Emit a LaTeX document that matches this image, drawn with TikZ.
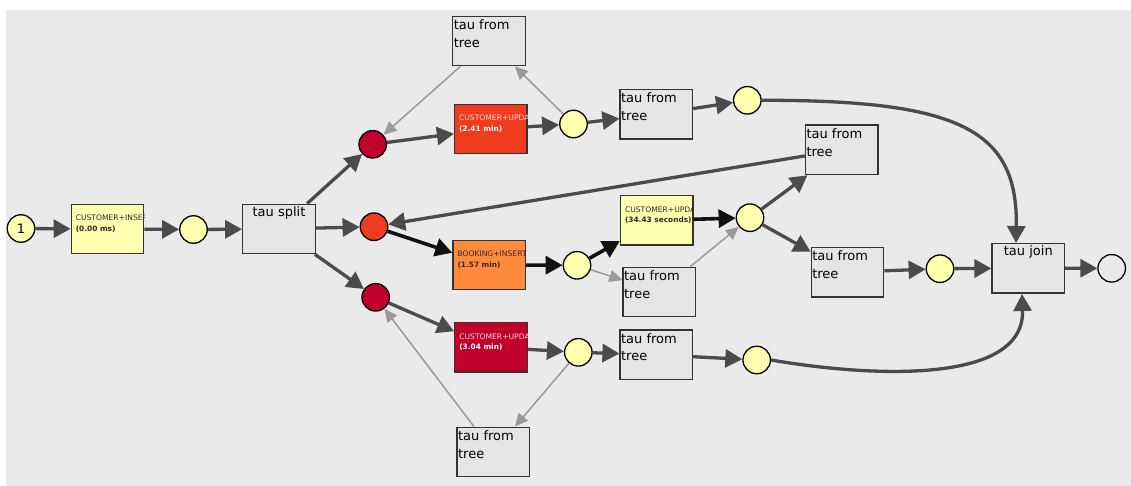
\documentclass[tikz,border=0pt]{standalone}
\usepackage{fontspec}
\setmainfont{DejaVu Sans}
\usetikzlibrary{arrows.meta}
\definecolor{bg}{HTML}{E9EAE9}
\definecolor{plc}{HTML}{FFFFB0}
\definecolor{crim}{HTML}{C1002B}
\definecolor{ored}{HTML}{F03C1E}
\definecolor{oran}{HTML}{FF8C3C}
\definecolor{taufill}{HTML}{E5E5E5}
\definecolor{edgec}{HTML}{4B4B4B}
\definecolor{litec}{HTML}{9A9A9A}
\definecolor{blkc}{HTML}{111111}
\definecolor{darktxt}{HTML}{3B2525}
\definecolor{pinktxt}{HTML}{FFD6D6}
\tikzset{
  place/.style={circle, draw=black, line width=1.3pt, minimum size=27.5pt, inner sep=0pt, fill=plc},
  tbox/.style={rectangle, draw=black!80, line width=1.3pt, minimum width=72.5pt, minimum height=49.5pt, inner sep=0pt},
  taubox/.style={tbox, fill=taufill},
  taulbl/.style={anchor=north west, align=left, inner xsep=1pt, inner ysep=0pt, font=\fontsize{13}{17.5}\selectfont},
  ctrlbl/.style={anchor=base, inner sep=0pt, font=\fontsize{13}{15}\selectfont},
  ttl/.style={anchor=base west, inner sep=0pt, font=\fontsize{7.6}{8}\selectfont},
  ttlb/.style={anchor=base west, inner sep=0pt, font=\fontsize{7.4}{8}\selectfont\bfseries},
  arc/.style={draw=edgec, line width=3.3pt, -{Triangle[length=17pt,width=18pt]}},
  blarc/.style={draw=blkc, line width=3.6pt, -{Triangle[length=17pt,width=18pt]}},
  ltarc/.style={draw=litec, line width=1.5pt, -{Triangle[length=13pt,width=12pt]}},
}
\begin{document}
\begin{tikzpicture}[x=1pt,y=-1pt]
\useasboundingbox (0,0) rectangle (1131,486);
\fill[bg] (6,10) rectangle (1131,486);

% places
\node[place] (start) at (21,228.5) {\fontsize{13}{15}\selectfont 1};
\node[place] (p1) at (193.5,229.5) {};
\node[place, fill=crim] (ca) at (372.7,144.3) {};
\node[place, fill=ored] (cb) at (374,226.7) {};
\node[place, fill=crim] (cc) at (375.7,297.3) {};
\node[place] (p2) at (573.5,124) {};
\node[place] (p3) at (747.3,100.3) {};
\node[place] (p4) at (577,265.3) {};
\node[place] (p5) at (750,217.7) {};
\node[place] (p6) at (940,268.7) {};
\node[place, fill=bg] (pend) at (1111.7,268.3) {};
\node[place] (p7) at (578.3,352.3) {};
\node[place] (p8) at (756.7,360) {};

% transitions
\node[tbox, fill=plc] (tr1) at (107.5,229) {};
\node[tbox, fill=ored] (tr2) at (490.8,129) {};
\node[tbox, fill=oran] (tr3) at (489.2,265) {};
\node[tbox, fill=plc] (tr4) at (656.7,220.3) {};
\node[tbox, fill=crim] (tr5) at (491,347.2) {};

\begin{scope}
\clip (tr1.north west) rectangle (tr1.south east);
\node[ttl, text=darktxt] (tr1a) at ([shift={(5pt,-17.3pt)}]tr1.north west) {CUSTOMER+INSERT};
\node[ttlb, text=darktxt] (tr1b) at ([shift={(5pt,-28pt)}]tr1.north west) {(0.00 ms)};
\end{scope}
\begin{scope}
\clip (tr2.north west) rectangle (tr2.south east);
\node[ttl, text=pinktxt] (tr2a) at ([shift={(5pt,-17.3pt)}]tr2.north west) {CUSTOMER+UPDATE};
\node[ttlb, text=white] (tr2b) at ([shift={(5pt,-28pt)}]tr2.north west) {(2.41 min)};
\end{scope}
\begin{scope}
\clip (tr3.north west) rectangle (tr3.south east);
\node[ttl, text=darktxt] (tr3a) at ([shift={(5pt,-17.3pt)}]tr3.north west) {BOOKING+INSERT+};
\node[ttlb, text=darktxt] (tr3b) at ([shift={(5pt,-28pt)}]tr3.north west) {(1.57 min)};
\end{scope}
\begin{scope}
\clip (tr4.north west) rectangle (tr4.south east);
\node[ttl, text=darktxt] (tr4a) at ([shift={(5pt,-17.3pt)}]tr4.north west) {CUSTOMER+UPDATE};
\node[ttlb, text=darktxt] (tr4b) at ([shift={(5pt,-28pt)}]tr4.north west) {(34.43 seconds)};
\end{scope}
\begin{scope}
\clip (tr5.north west) rectangle (tr5.south east);
\node[ttl, text=pinktxt] (tr5a) at ([shift={(5pt,-17.3pt)}]tr5.north west) {CUSTOMER+UPDATE};
\node[ttlb, text=white] (tr5b) at ([shift={(5pt,-28pt)}]tr5.north west) {(3.04 min)};
\end{scope}

% tau boxes
\node[taubox] (split) at (279,229) {};
\node[ctrlbl] (splitl) at ([yshift=-12.5pt]split.north) {tau split};
\node[taubox] (join) at (1028.3,268.2) {};
\node[ctrlbl] (joinl) at ([yshift=-13pt]join.north) {tau join};

\node[taubox] (tt1) at (489,41) {};
\node[taubox] (tt2) at (656.3,114.2) {};
\node[taubox] (tt3) at (841.7,149.9) {};
\node[taubox] (tt4) at (659.3,292) {};
\node[taubox] (tt5) at (847.5,272.2) {};
\node[taubox] (tt6) at (656.3,354.8) {};
\node[taubox] (tt7) at (493.3,452) {};
\foreach \t in {tt1,tt2,tt3,tt4,tt5,tt6,tt7}{
  \node[taulbl] (\t l) at ([shift={(0.5pt,-4pt)}]\t.north west) {tau from\\tree};
}

\coordinate (jtop) at (1016,243);
\coordinate (jbot) at (1022,294);

% connectors
\draw[arc] (start) -- (tr1);
\draw[arc] (tr1) -- (p1);
\draw[arc] (p1) -- (split);
\draw[arc] (split) -- (ca);
\draw[arc] (split) -- (cb);
\draw[arc] (split) -- (cc);
\draw[arc] (ca) -- (tr2);
\draw[arc] (tr2) -- (p2);
\draw[ltarc] (p2) -- (tt1);
\draw[ltarc] (tt1) -- (ca);
\draw[arc] (p2) -- (tt2);
\draw[arc] (tt2) -- (p3);
\draw[arc] (p3.east) .. controls (960,100) and (1018,130) .. (jtop);
\draw[arc] (tt3) -- (cb);
\draw[blarc] (cb) -- (tr3);
\draw[blarc] (tr3) -- (p4);
\draw[blarc] (p4) -- (tr4);
\draw[ltarc] (p4) -- (tt4);
\draw[blarc] (tr4) -- (p5);
\draw[ltarc] (tt4) -- (p5);
\draw[arc] (p5) -- (tt3);
\draw[arc] (p5) -- (tt5);
\draw[arc] (tt5) -- (p6);
\draw[arc] (p6) -- (join);
\draw[arc] (join) -- (pend);
\draw[arc] (cc) -- (tr5);
\draw[arc] (tr5) -- (p7);
\draw[arc] (p7) -- (tt6);
\draw[ltarc] (p7) -- (tt7);
\draw[ltarc] (tt7) -- (cc);
\draw[arc] (tt6) -- (p8);
\draw[arc] (p8.east) .. controls (870,377) and (1025,385) .. (jbot);
\end{tikzpicture}
\end{document}
